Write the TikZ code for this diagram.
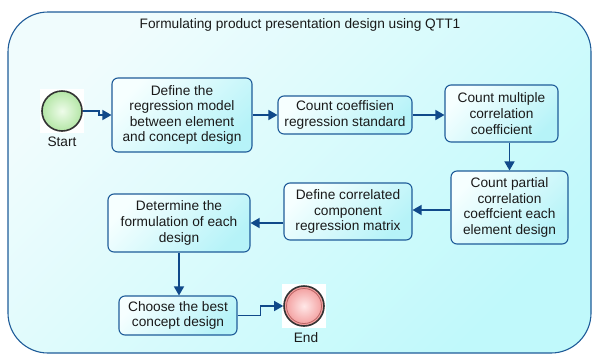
\documentclass[tikz,border=0pt]{standalone}
\usepackage{fontspec}
\setmainfont{Liberation Sans}
\usetikzlibrary{arrows.meta,calc}
\definecolor{bordc}{HTML}{1F5C99}
\definecolor{arrc}{HTML}{10498A}
\definecolor{bgA}{HTML}{F0FCFD}
\definecolor{bgB}{HTML}{C0F9FB}
\definecolor{bxA}{HTML}{F6FFFF}
\definecolor{bxB}{HTML}{B6F3F8}
\definecolor{grA}{HTML}{EEFCEA}
\definecolor{grB}{HTML}{B4E6A6}
\definecolor{rdA}{HTML}{FFE8E8}
\definecolor{rdB}{HTML}{F29A9A}
\definecolor{txtc}{HTML}{1A1A1A}
\begin{document}
\begin{tikzpicture}[x=1pt,y=-1pt,
  txt/.style={font=\fontsize{13.7}{15.6}\selectfont, text=txtc},
  task/.style={draw=bordc, line width=1.1pt, rounded corners=6pt,
    top color=bxA, bottom color=bxB, shading angle=45,
    align=center, inner sep=0pt, txt},
  flow/.style={draw=arrc, line width=1.4pt, -{Triangle[length=9pt,width=10pt]}},
  evt/.style={circle, minimum size=40pt, inner sep=0pt, line width=1.6pt, draw=black!80},
  iconbg/.style={fill=white, draw=none, minimum size=44pt, inner sep=0pt}
]
\useasboundingbox (0,0) rectangle (593,354);
\path[draw=bordc, line width=1.1pt, rounded corners=40pt,
  top color=bgA, bottom color=bgB, shading angle=45]
  (8,12) rectangle (591,353);
\node[txt] (title) at (300,25) {Formulating product presentation design using QTT1};

\node[task, minimum width=140pt, minimum height=74pt] (b1) at (182,115)
  {Define the\\regression model\\between element\\and concept design};
\node[task, minimum width=134pt, minimum height=38pt] (b2) at (345,115)
  {Count coeffisien\\regression standard};
\node[task, minimum width=113pt, minimum height=57pt] (b3) at (501.5,113.5)
  {Count multiple\\correlation\\coefficient};
\node[task, minimum width=117pt, minimum height=73pt] (b4) at (509.5,207.5)
  {Count partial\\correlation\\coeffcient each\\element design};
\node[task, minimum width=128pt, minimum height=57pt] (b5) at (348,211.5)
  {Define correlated\\component\\regression matrix};
\node[task, minimum width=142pt, minimum height=58pt] (b6) at (179,223)
  {Determine the\\formulation of each\\design};
\node[task, minimum width=118pt, minimum height=39pt] (b7) at (178,315.5)
  {Choose the best\\concept design};

\node[iconbg] (sbg) at (62,111) {};
\node[evt, inner color=grA, outer color=grB] (start) at (62,111) {};
\node[txt] (slbl) at (62,142) {Start};

\node[iconbg] (ebg) at (304,306) {};
\node[evt, inner color=rdA, outer color=rdB] (end) at (304,306) {};
\draw[draw=red!55!black!60, line width=0.8pt] (end.center) circle (17.5pt);
\node[txt] (elbl) at (306,338) {End};

\draw[flow] (start.east) -- ++(16,0) |- (b1.west);
\draw[flow] (b1.east) -- (b2.west);
\draw[flow] (b2.east) -- (b2.east -| b3.west);
\draw[flow] (b4.north |- b3.south) -- (b4.north);
\draw[flow] (b4.west |- 0,210) -- (b5.east |- 0,210);
\draw[flow] (b5.west |- b6.east) -- (b6.east);
\draw[flow] (b6.south) -- (b6.south |- b7.north);
\draw[flow] (b7.east) -- ++(23,0) |- (end.west);
\end{tikzpicture}
\end{document}
